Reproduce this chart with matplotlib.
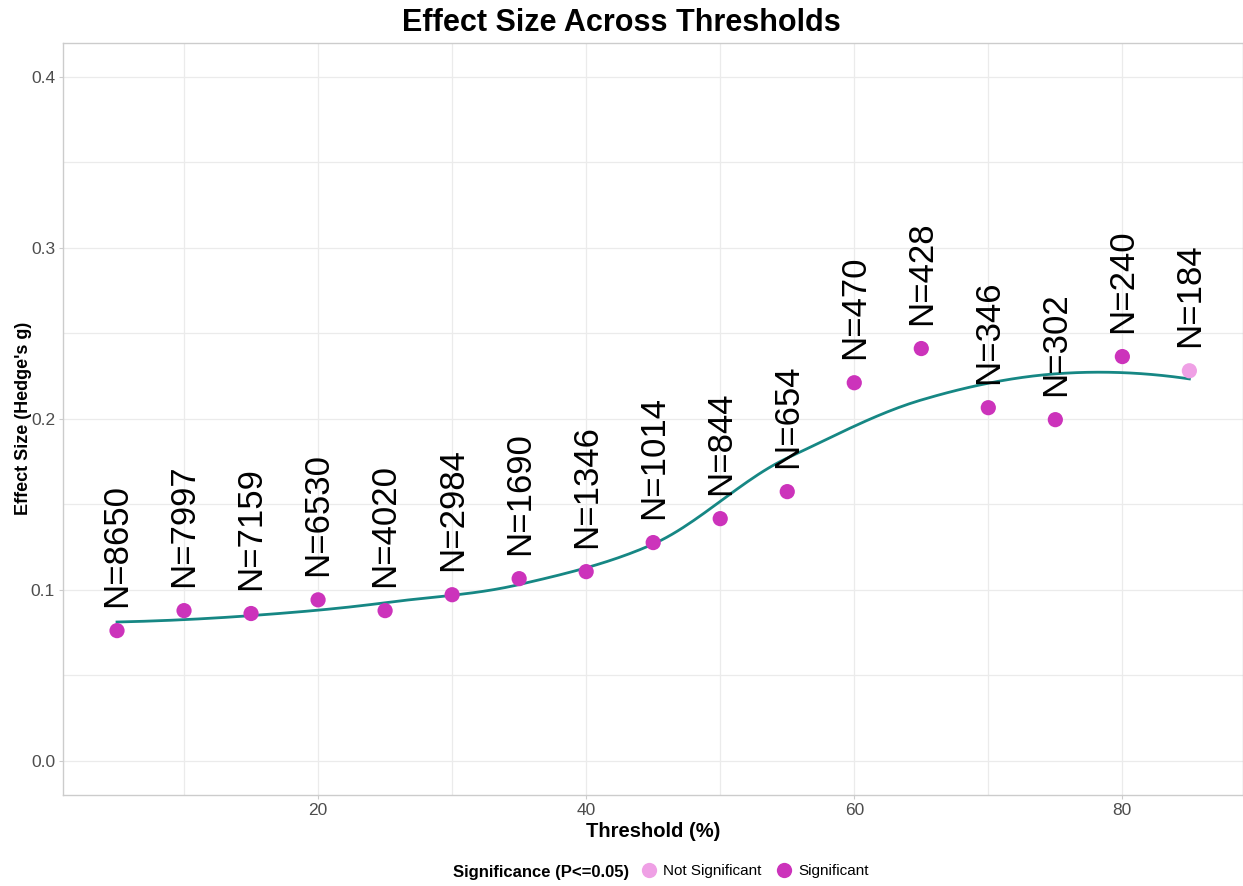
import numpy as np
import matplotlib
matplotlib.use("Agg")
from matplotlib import pyplot as plt
from matplotlib.lines import Line2D

plt.rcParams['font.family'] = ['Liberation Sans', 'DejaVu Sans']

# data
thresholds = [5, 10, 15, 20, 25, 30, 35, 40, 45, 50, 55, 60, 65, 70, 75, 80, 85]
effect_size = [0.076, 0.0877, 0.086, 0.094, 0.0877, 0.097, 0.1064, 0.1105, 0.1275,
               0.1415, 0.1573, 0.221, 0.241, 0.2064, 0.1994, 0.2363, 0.228]
n_labels = [8650, 7997, 7159, 6530, 4020, 2984, 1690, 1346, 1014,
            844, 654, 470, 428, 346, 302, 240, 184]
significant = [True] * 16 + [False]

SIG_COL = '#CC33BB'
NSIG_COL = '#EFA0E5'
LINE_COL = '#168784'


def local_fit(x, y, x0, span=0.75):
    # local quadratic fit with tricube weights, returns value and slope at x0
    q = int(np.floor(len(x) * span))
    d = np.abs(x - x0)
    dmax = np.sort(d)[q - 1]
    w = np.clip(1 - (d / dmax) ** 3, 0, None) ** 3
    X = np.vstack([np.ones_like(x), x - x0, (x - x0) ** 2]).T
    W = np.diag(w)
    beta = np.linalg.solve(X.T @ W @ X, X.T @ W @ y)
    return beta[0], beta[1]


def loess(x, y, xs, span=0.75):
    # fit at vertices, cubic hermite in between (like R's interpolate surface)
    x = np.asarray(x, float)
    y = np.asarray(y, float)
    verts = np.linspace(x.min(), x.max(), 9)
    fits = [local_fit(x, y, v, span) for v in verts]
    vals = np.array([f[0] for f in fits])
    slopes = np.array([f[1] for f in fits])
    out = []
    for xv in xs:
        i = min(np.searchsorted(verts, xv, side='right') - 1, len(verts) - 2)
        h = verts[i + 1] - verts[i]
        t = (xv - verts[i]) / h
        h00 = 2 * t**3 - 3 * t**2 + 1
        h10 = t**3 - 2 * t**2 + t
        h01 = -2 * t**3 + 3 * t**2
        h11 = t**3 - t**2
        out.append(h00 * vals[i] + h10 * h * slopes[i] + h01 * vals[i + 1] + h11 * h * slopes[i + 1])
    return np.array(out)


fig = plt.figure(figsize=(12.43, 8.86), dpi=100)
ax = fig.add_axes([0.051, 0.103, 0.949, 0.849])

xs = np.linspace(min(thresholds), max(thresholds), 200)
ax.plot(xs, loess(thresholds, effect_size, xs), color=LINE_COL, lw=2, zorder=2)

cols = [SIG_COL if s else NSIG_COL for s in significant]
ax.scatter(thresholds, effect_size, s=120, c=cols, edgecolors='none', zorder=3)

for x, y, n in zip(thresholds, effect_size, n_labels):
    ax.text(x, y + 0.014, f"N={n}", rotation=90, ha='center', va='bottom',
            fontsize=25, color='black', zorder=4)

ax.set_xlim(1, 89)
ax.set_ylim(-0.02, 0.42)
ax.set_xticks([20, 40, 60, 80])
ax.set_xticks([10, 30, 50, 70], minor=True)
ax.set_yticks([0.0, 0.1, 0.2, 0.3, 0.4])
ax.set_yticks([0.05, 0.15, 0.25, 0.35], minor=True)
ax.grid(True, which='both', color='#EBEBEB', lw=0.9, zorder=0)
ax.set_axisbelow(True)
for sp in ax.spines.values():
    sp.set_color('#CCCCCC')
    sp.set_linewidth(1.0)
ax.tick_params(which='major', length=3, color='#CCCCCC', labelsize=12.5,
               labelcolor='#4D4D4D', pad=3)
ax.tick_params(which='minor', length=0)

ax.set_xlabel("Threshold (%)", fontsize=14.5, fontweight='bold', labelpad=3)
ax.set_ylabel("Effect Size (Hedge's g)", fontsize=13, fontweight='bold', labelpad=-1)
fig.suptitle("Effect Size Across Thresholds", fontsize=22, fontweight='bold', y=0.991)

fig.text(0.506, 0.007, "Significance (P<=0.05)", fontsize=12, fontweight='bold',
         ha='right', va='bottom')
handles = [Line2D([], [], ls='none', marker='o', ms=11, mfc=NSIG_COL, mec='none'),
           Line2D([], [], ls='none', marker='o', ms=11, mfc=SIG_COL, mec='none')]
fig.legend(handles, ["Not Significant", "Significant"], loc='lower left',
           bbox_to_anchor=(0.505, -0.007), ncol=2, frameon=False, fontsize=11,
           handlelength=1.0, handletextpad=0.4, columnspacing=1.0)

fig.savefig("out.png", dpi=100)
